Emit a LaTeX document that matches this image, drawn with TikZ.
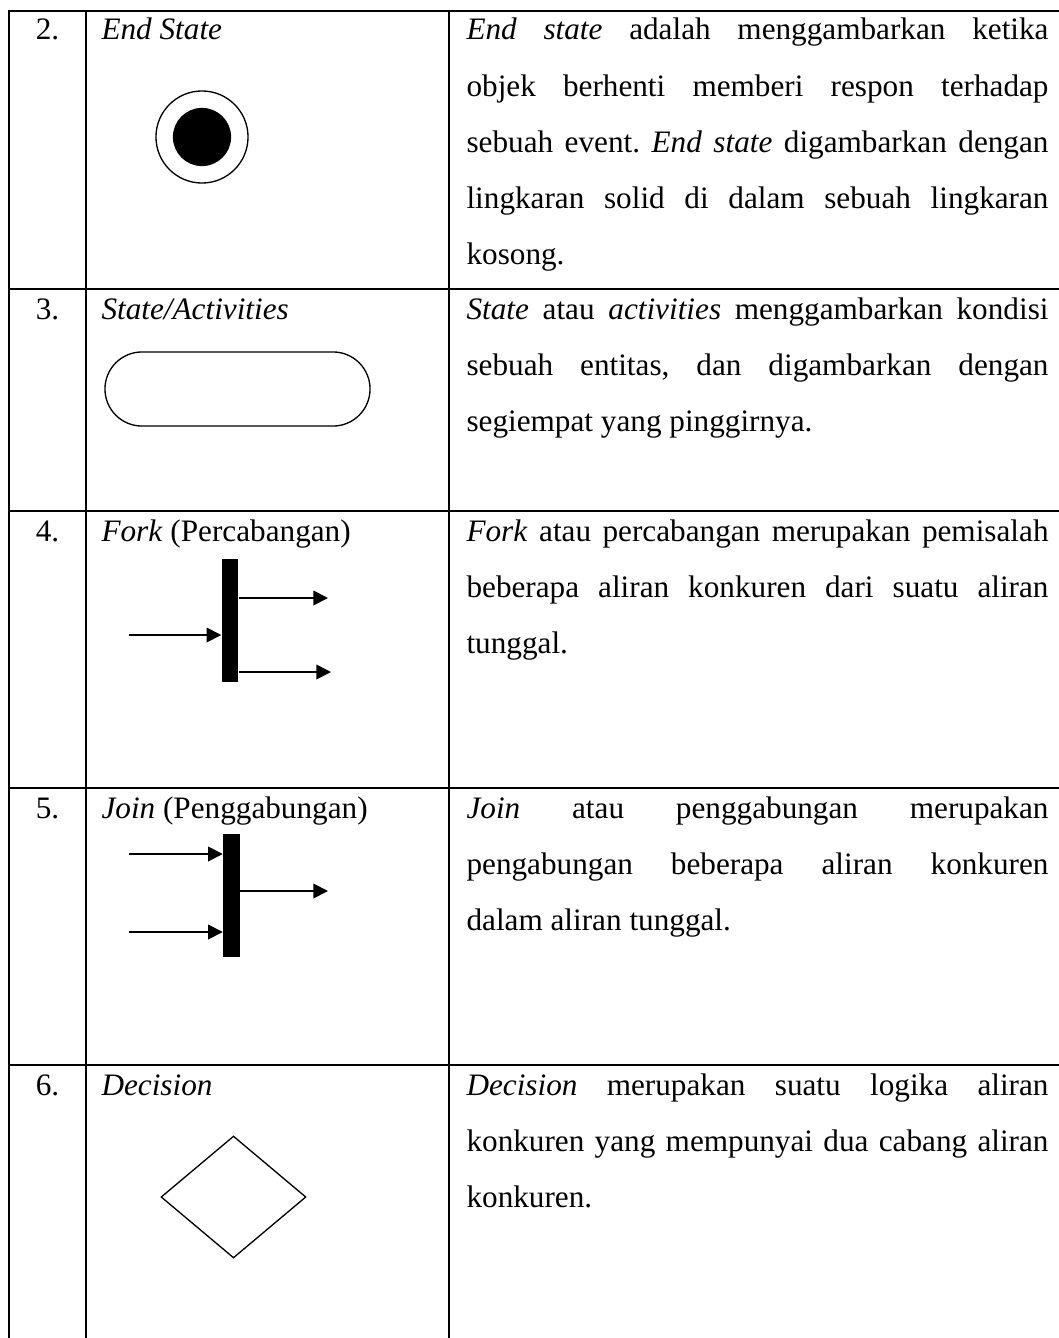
\documentclass[tikz,border=0pt]{standalone}
\usepackage{fontspec}
\setmainfont{Liberation Serif}
\usetikzlibrary{arrows.meta,shapes.geometric}
\frenchspacing
\newcommand{\jline}[1]{\makebox[\linewidth][s]{#1}}

\begin{document}
\begin{tikzpicture}[x=0.378pt,y=0.378pt,yscale=-1,
  grid/.style={line width=0.76pt,line cap=rect},
  txt/.style={inner sep=0pt,font=\fontsize{11.8pt}{21.2pt}\selectfont},
  num/.style={txt,anchor=base},
  lbl/.style={txt,anchor=base west},
  desc/.style={txt,anchor=base west,text width=220pt,align=justify},
  outline/.style={draw,line width=0.5pt,inner sep=0pt},
  flow/.style={line width=0.65pt,-{Triangle[length=5.5pt,width=5.5pt]}},
  bar/.style={fill=black,inner sep=0pt,minimum width=6.2pt,minimum height=46.5pt}]
\useasboundingbox (0,0) rectangle (1058,1338);

%Table grid
\foreach \y in {11,289,511,788,1065} \draw[grid] (9,\y) -- (1058,\y);
\foreach \x in {9,86,449} \draw[grid] (\x,11) -- (\x,1338);

% Text Node
\node[num] (n2) at (47.5,40) {2.};
\node[num] (n3) at (47.5,319) {3.};
\node[num] (n4) at (47.5,541) {4.};
\node[num] (n5) at (47.5,818) {5.};
\node[num] (n6) at (47.5,1095) {6.};

% Text Node
\node[lbl] (l2) at (101,40) {\textit{End State}};
\node[lbl] (l3) at (101,319) {\textit{State/Activities}};
\node[lbl] (l4) at (101,541) {\textit{Fork} (Percabangan)};
\node[lbl] (l5) at (101,818) {\textit{Join} (Penggabungan)};
\node[lbl] (l6) at (101,1095) {\textit{Decision}};

% Text Node
\node[desc] (d2) at (466,40) {\jline{\textit{End state} adalah menggambarkan ketika}\\
  \jline{objek berhenti memberi respon terhadap}\\
  \jline{sebuah event. \textit{End state} digambarkan dengan}\\
  \jline{lingkaran solid di dalam sebuah lingkaran}\\
  kosong.};
\node[desc] (d3) at (466,319) {\jline{\textit{State} atau \textit{activities} menggambarkan kondisi}\\
  \jline{sebuah entitas, dan digambarkan dengan}\\
  segiempat yang pinggirnya.};
\node[desc] (d4) at (466,541) {\jline{\textit{Fork} atau percabangan merupakan pemisalah}\\
  \jline{beberapa aliran konkuren dari suatu aliran}\\
  tunggal.};
\node[desc] (d5) at (466,818) {\jline{\textit{Join} atau penggabungan merupakan}\\
  \jline{pengabungan beberapa aliran konkuren}\\
  dalam aliran tunggal.};
\node[desc] (d6) at (466,1095) {\jline{\textit{Decision} merupakan suatu logika aliran}\\
  \jline{konkuren yang mempunyai dua cabang aliran}\\
  konkuren.};

%Shape: Circle
\node[circle,outline,minimum size=34.8pt] (endring) at (202,137) {};
\node[circle,fill=black,inner sep=0pt,minimum size=22pt] (enddot) at (endring.center) {};

%Shape: Rounded Rect
\node[outline,rounded corners=14pt,minimum width=100.2pt,minimum height=28pt] (state) at (237.5,389) {};

%Shape: Fork
\node[bar] (fkbar) at (230,620.5) {};
\coordinate (fkin) at (129,635);
\coordinate (fkup) at (328,598);
\coordinate (fklow) at (331,672);
\draw[flow] (fkin) -- (fkin -| fkbar.west);
\draw[flow] (fkbar.east |- fkup) -- (fkup);
\draw[flow] (fkbar.east |- fklow) -- (fklow);

%Shape: Join
\node[bar] (jnbar) at (231.5,895) {};
\coordinate (jnup) at (129,854);
\coordinate (jnlow) at (129,932);
\coordinate (jnout) at (328,891);
\draw[flow] (jnup) -- (jnup -| jnbar.west);
\draw[flow] (jnlow) -- (jnlow -| jnbar.west);
\draw[flow] (jnbar.east |- jnout) -- (jnout);

%Shape: Diamond
\node[diamond,outline,minimum width=54.8pt,minimum height=46.1pt] (decide) at (233.5,1197) {};

\end{tikzpicture}
\end{document}
